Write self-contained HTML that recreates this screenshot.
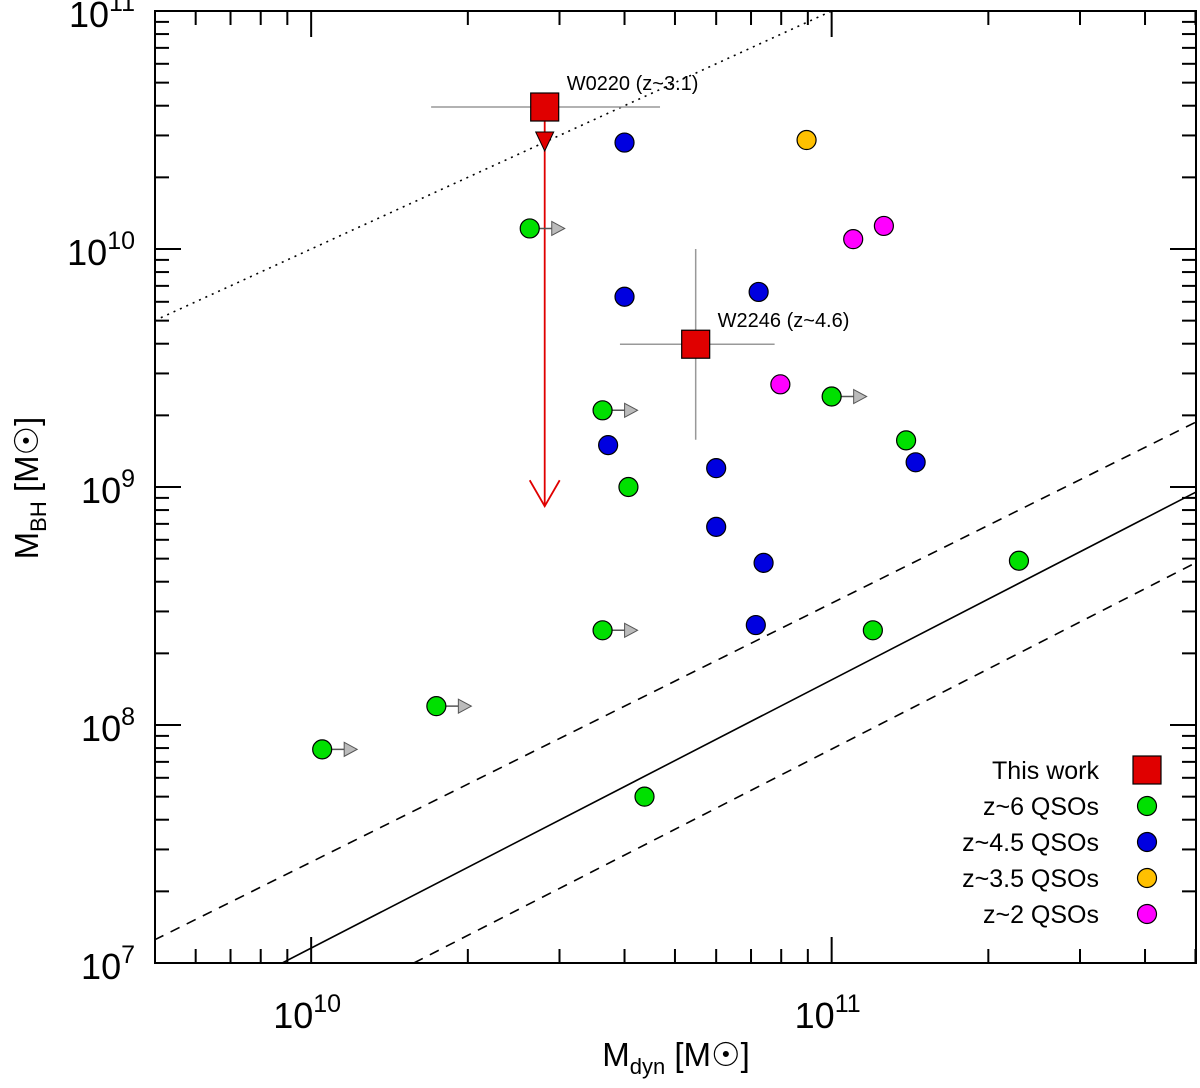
<!DOCTYPE html>
<html><head><meta charset="utf-8"><style>
body{margin:0;background:#fff}
svg text{font-family:"Liberation Sans","DejaVu Sans",sans-serif;fill:#000}
</style></head><body>
<svg id="chart" width="1200" height="1083" xmlns="http://www.w3.org/2000/svg"></svg>
<script>
// data
const greenX=[2.63e10,3.63e10,4.07e10,3.63e10,1.74e10,1.05e10,4.37e10,1.0e11,1.39e11,2.29e11,1.2e11];
const greenY=[1.22e10,2.1e9,1.0e9,2.5e8,1.2e8,7.9e7,5.0e7,2.4e9,1.57e9,4.9e8,2.5e8];
const greenLower=[1,1,0,1,1,1,0,1,0,0,0];
const blueX=[4.0e10,4.0e10,7.24e10,3.72e10,6.0e10,6.0e10,7.4e10,7.15e10,1.45e11];
const blueY=[2.8e10,6.3e9,6.6e9,1.5e9,1.2e9,6.8e8,4.8e8,2.63e8,1.27e9];
const orangeX=[8.95e10];
const orangeY=[2.87e10];
const magentaX=[1.1e11,1.26e11,7.97e10];
const magentaY=[1.1e10,1.25e10,2.7e9];
const thisX=[2.81e10,5.48e10];
const thisY=[3.95e10,3.98e9];
const thisXlo=[1.7e10,3.92e10];
const thisXhi=[4.68e10,7.77e10];
const thisYlo=[8.3e8,1.58e9];
const thisYhi=[3.95e10,1.0e10];
const thisLabels=["W0220 (z~3.1)","W2246 (z~4.6)"];
const xTickMajor=[1e10,1e11];
const yTickMajor=[1e7,1e8,1e9,1e10,1e11];
const yTickLabelsExp=["7","8","9","10","11"];
const xTickLabelsExp=["10","11"];

const L=155,R=1196,T=11,B=963;
const xmin=9.70,xmax=11.7,ymin=7,ymax=11;
const X=v=>L+(Math.log10(v)-xmin)/(xmax-xmin)*(R-L);
const Y=v=>B-(Math.log10(v)-ymin)/(ymax-ymin)*(B-T);
const svg=document.getElementById('chart');
const NS='http://www.w3.org/2000/svg';
function mk(tag,attrs,name,parent){const e=document.createElementNS(NS,tag);for(const k in attrs)e.setAttribute(k,attrs[k]);


(parent||svg).appendChild(e);return e;}
const defs=document.createElementNS(NS,'defs');defs.innerHTML='<clipPath id="pc"><rect x="155" y="11" width="1041" height="952"/></clipPath>';svg.appendChild(defs);
const g=mk('g',{'clip-path':'url(#pc)'},'plot-area');
function rel(x1,y1,x2,y2,dash,name){mk('line',{x1:X(x1),y1:Y(y1),x2:X(x2),y2:Y(y2),stroke:'#000','stroke-width':1.6,'stroke-dasharray':dash},name,g);}
rel(5e9,5e9,1e11,1e11,'2,5','one-to-one-dotted-line');
rel(8.8e9,1e7,5e11,9.5e8,'','local-relation-line');
rel(5e9,1.25e7,5e11,1.87e9,'10,8','upper-scatter-line');
rel(1.575e10,1e7,5e11,4.8e8,'10,8','lower-scatter-line');
mk('rect',{x:L,y:T,width:R-L,height:B-T,fill:'none',stroke:'#000','stroke-width':2},'axes-frame');
for(let d=9;d<=11;d++)for(let m=1;m<10;m++){const v=m*Math.pow(10,d);const lv=Math.log10(v);if(lv<xmin||lv>xmax)continue;const x=X(v);const len=m==1?26:14;
mk('line',{x1:x,y1:B,x2:x,y2:B-len,stroke:'#000','stroke-width':2},'x-tick',svg);
mk('line',{x1:x,y1:T,x2:x,y2:T+len,stroke:'#000','stroke-width':2},'x-tick-top',svg);}
for(let d=7;d<=10;d++)for(let m=1;m<=10;m++){const v=m*Math.pow(10,d);const y=Y(v);const len=(m==1||m==10)?26:14;
mk('line',{x1:L,y1:y,x2:L+len,y2:y,stroke:'#000','stroke-width':2},'y-tick',svg);
mk('line',{x1:R,y1:y,x2:R-len,y2:y,stroke:'#000','stroke-width':2},'y-tick-right',svg);}
xTickMajor.forEach((v,i)=>{const t=mk('text',{x:X(v)-4,y:1028,'font-size':36,'text-anchor':'middle'},'x-tick-label');t.innerHTML='10<tspan dy="-16" font-size="25">'+xTickLabelsExp[i]+'</tspan>';});
yTickMajor.forEach((v,i)=>{const t=mk('text',{x:135,y:Y(v)+16,'font-size':36,'text-anchor':'end'},'y-tick-label');t.innerHTML='10<tspan dy="-16" font-size="25">'+yTickLabelsExp[i]+'</tspan>';});
let t=mk('text',{x:676,y:1066,'font-size':33,'text-anchor':'middle'},'x-axis-title');t.innerHTML='M<tspan dy="8" font-size="22">dyn</tspan><tspan dy="-8">  [M</tspan><tspan font-family="DejaVu Sans">☉</tspan>]';
t=mk('text',{x:0,y:0,'font-size':33,'text-anchor':'middle',transform:'translate(38,488) rotate(-90)'},'y-axis-title');t.innerHTML='M<tspan dy="8" font-size="22">BH</tspan><tspan dy="-8">  [M</tspan><tspan font-family="DejaVu Sans">☉</tspan>]';
thisX.forEach((x,i)=>{mk('line',{x1:X(thisXlo[i]),y1:Y(thisY[i]),x2:X(thisXhi[i]),y2:Y(thisY[i]),stroke:'#999','stroke-width':1.5},'x-error-bar',g);});
mk('line',{x1:X(thisX[1]),y1:Y(thisYlo[1]),x2:X(thisX[1]),y2:Y(thisYhi[1]),stroke:'#999','stroke-width':1.5},'y-error-bar',g);
const ax=X(thisX[0]);
mk('line',{x1:ax,y1:Y(thisY[0]),x2:ax,y2:Y(thisYlo[0]),stroke:'#e00000','stroke-width':1.8},'upper-limit-arrow',g);
mk('polyline',{points:`${ax-15},${Y(thisYlo[0])-26} ${ax},${Y(thisYlo[0])} ${ax+15},${Y(thisYlo[0])-26}`,fill:'none',stroke:'#e00000','stroke-width':1.8},'arrow-head',g);
mk('polygon',{points:`${ax-9},${Y(thisY[0])+25} ${ax+9},${Y(thisY[0])+25} ${ax},${Y(thisY[0])+44}`,fill:'#e00000',stroke:'#000','stroke-width':1},'triangle-marker',g);
function dots(xs,ys,col,name,lower){xs.forEach((x,i)=>{const cx=X(x),cy=Y(ys[i]);
if(lower&&lower[i]){mk('line',{x1:cx,y1:cy,x2:cx+22,y2:cy,stroke:'#555','stroke-width':1.5},'lower-limit-arrow',g);
mk('polygon',{points:`${cx+22},${cy-7} ${cx+35},${cy} ${cx+22},${cy+7}`,fill:'#bbb',stroke:'#555','stroke-width':1},'lower-limit-head',g);}
mk('circle',{cx,cy,r:9.5,fill:col,stroke:'#000','stroke-width':1.2},name,g);});}
dots(greenX,greenY,'#00e000','z6-qso',greenLower);
dots(blueX,blueY,'#0000e0','z45-qso');
dots(orangeX,orangeY,'#ffc000','z35-qso');
dots(magentaX,magentaY,'#ff00ff','z2-qso');
thisX.forEach((x,i)=>{const cx=X(x),cy=Y(thisY[i]);mk('rect',{x:cx-14,y:cy-14,width:28,height:28,fill:'#e00000',stroke:'#000','stroke-width':1.2},'this-work-square',g);
const tt=mk('text',{x:cx+22,y:cy-17,'font-size':20,'font-family':'Liberation Mono, monospace'},'source-label',g);tt.textContent=thisLabels[i];});
const leg=[['This work','sq','#e00000'],['z~6 QSOs','c','#00e000'],['z~4.5 QSOs','c','#0000e0'],['z~3.5 QSOs','c','#ffc000'],['z~2 QSOs','c','#ff00ff']];
const lg=mk('g',{},'legend');
leg.forEach((l,i)=>{const y=770+i*36;const tx=mk('text',{x:1099,y:y+9,'font-size':25,'text-anchor':'end'},'legend-label',lg);tx.textContent=l[0];
if(l[1]=='sq')mk('rect',{x:1133,y:y-14,width:28,height:28,fill:l[2],stroke:'#000','stroke-width':1.2},'legend-marker',lg);
else mk('circle',{cx:1147,cy:y,r:9.5,fill:l[2],stroke:'#000','stroke-width':1.2},'legend-marker',lg);});
</script>
</body></html>
